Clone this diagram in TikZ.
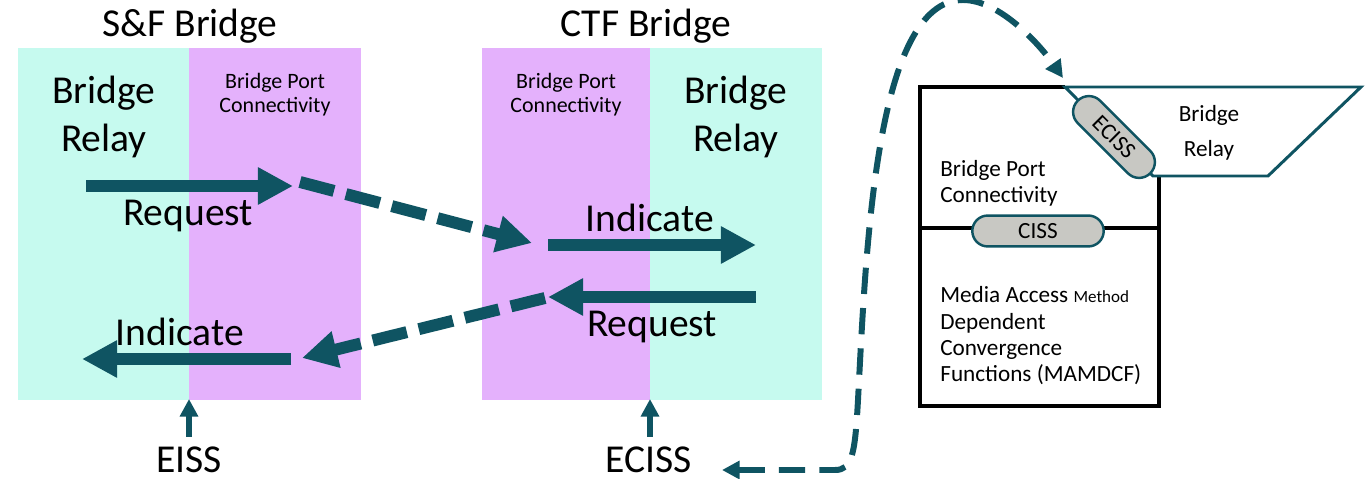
\documentclass[tikz,border=0pt]{standalone}
\usepackage{fontspec}
\setmainfont{Carlito}
\usetikzlibrary{arrows.meta,shapes.misc}
\definecolor{relaycyan}{HTML}{C6FAEF}
\definecolor{portpurple}{HTML}{E4B1FC}
\definecolor{arrowteal}{HTML}{0F5462}
\definecolor{pillgrey}{HTML}{C8C8C3}

\begin{document}
\begin{tikzpicture}[x=0.02cm, y=-0.02cm,
	bigarrow/.style={draw=arrowteal, line width=6.8pt, -{Triangle[length=20pt,width=20pt]}},
	dasharrow/.style={bigarrow, dash pattern=on 20pt off 7pt},
	smallarrow/.style={draw=arrowteal, line width=3.4pt, -{Triangle[length=10pt,width=10pt]}},
	title/.style={font=\fontsize{22.5}{27}\selectfont, inner sep=0pt, anchor=base},
	relay/.style={font=\fontsize{22.5}{27.8}\selectfont, inner sep=0pt, anchor=base, align=center},
	port/.style={font=\fontsize{12.5}{14.2}\selectfont, inner sep=0pt, anchor=base, align=center},
	msg/.style={font=\fontsize{22.5}{26}\selectfont, inner sep=0pt, anchor=base},
	boxtext/.style={font=\fontsize{13.2}{15}\selectfont, inner sep=0pt, anchor=base west, align=left},
	pill/.style={rounded rectangle, draw=arrowteal, fill=pillgrey, line width=1.4pt,
		font=\fontsize{13.2}{15}\selectfont, inner sep=0pt}]
	\useasboundingbox (0,0) rectangle (1367,479);

	% the two bridges
	\fill[relaycyan]  (18,48)  rectangle (189,400);
	\fill[portpurple] (189,48) rectangle (361,400);
	\fill[portpurple] (482,48) rectangle (650,400);
	\fill[relaycyan]  (650,48) rectangle (822,400);

	\node[title] (sftitle)  at (190,37) {S\&F Bridge};
	\node[title] (ctftitle) at (646,37) {CTF Bridge};
	\node[relay] (sfrelay)  at (104,152) {Bridge\\Relay};
	\node[relay] (ctfrelay) at (736,152) {Bridge\\Relay};
	\node[port]  (sfport)   at (275,113) {Bridge Port\\Connectivity};
	\node[port]  (ctfport)  at (566,113) {Bridge Port\\Connectivity};

	\node[msg] (sfreq)  at (188,226) {Request};
	\node[msg] (sfind)  at (180,346) {Indicate};
	\node[msg] (ctfind) at (650,232) {Indicate};
	\node[msg] (ctfreq) at (652,337) {Request};
	\node[msg, text depth=0pt] (eiss)  at (189,473) {EISS};
	\node[msg, text depth=0pt] (eciss) at (649,473) {ECISS};

	\coordinate (sfreqA)  at (86,186);
	\coordinate (sfreqB)  at (293,186);
	\coordinate (dashaA)  at (300,182);
	\coordinate (dashaB)  at (532,243);
	\coordinate (ctfindA) at (548,245);
	\coordinate (ctfindB) at (756,245);
	\coordinate (ctfreqA) at (756,297);
	\coordinate (ctfreqB) at (548,297);
	\coordinate (dashbA)  at (545,298);
	\coordinate (dashbB)  at (302,358);
	\coordinate (sfindA)  at (291,359);
	\coordinate (sfindB)  at (82,359);
	\coordinate (sfedge)  at (189,399);
	\coordinate (ctfedge) at (650,399);

	\foreach \from/\to in {sfreqA/sfreqB, ctfindA/ctfindB, ctfreqA/ctfreqB, sfindA/sfindB}
		\draw[bigarrow] (\from) -- (\to);
	\foreach \from/\to in {dashaA/dashaB, dashbA/dashbB}
		\draw[dasharrow] (\from) -- (\to);
	\draw[smallarrow] (sfedge |- 0,437) -- (sfedge);
	\draw[smallarrow] (ctfedge |- 0,437) -- (ctfedge);

	% port detail
	\draw[line width=2.3pt] (1065,87) -- (920,87) -- (920,406) -- (1159,406) -- (1159,176);
	\draw[line width=2.3pt] (920,228) -- (1159,228);
	\filldraw[fill=white, draw=arrowteal, line width=1.7pt]
		(1065,87) -- (1361,87) -- (1268,176) -- (1153,176) -- cycle;
	\node[pill, minimum width=58.4pt, minimum height=18pt, rotate=-45] (ecisspill) at (1114,137) {ECISS};
	\node[pill, minimum width=74.8pt, minimum height=17.6pt] (cisspill) at (1038,231) {CISS};
	\node[boxtext] (boxport) at (940,203) {Bridge Port\\Connectivity};
	\node[boxtext, align=center, anchor=base, font=\fontsize{13.2}{20.4}\selectfont] (boxrelay) at (1209,157) {Bridge\\Relay};
	\node[boxtext] (mamdcf) at (940,382)
		{Media Access {\fontsize{9.7}{11}\selectfont Method}\\Dependent\\Convergence\\Functions (MAMDCF)};

	% ECISS lookup
	\coordinate (lookA) at (722,470);
	\coordinate (lookB) at (1063,78);
	\draw[draw=arrowteal, line width=3.4pt, dash pattern=on 15pt off 8pt,
		{Triangle[length=10pt,width=10pt]}-{Triangle[length=10pt,width=10pt]}]
		(lookA) -- (835,470) .. controls (852,470) and (855,455) .. (858,400)
		.. controls (866,250) and (875,0) .. (963,0)
		.. controls (1000,0) and (1040,45) .. (lookB);
\end{tikzpicture}
\end{document}
